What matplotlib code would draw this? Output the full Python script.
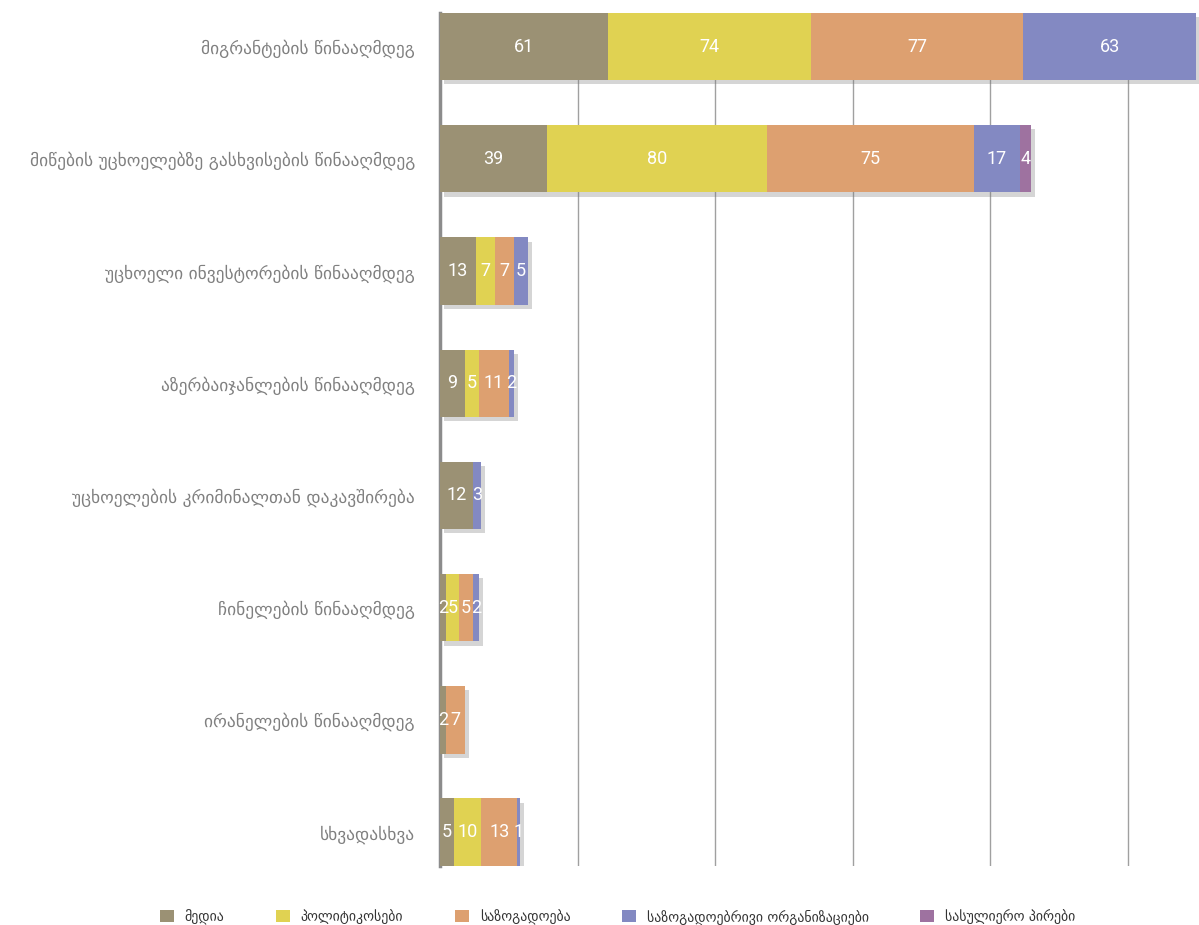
import numpy as np
import matplotlib.pyplot as plt
import matplotlib.patheffects as pe

# Categories (top to bottom)
categories = [
    "მიგრანტების წინააღმდეგ",
    "მიწების უცხოელებზე გასხვისების წინააღმდეგ",
    "უცხოელი ინვესტორების წინააღმდეგ",
    "აზერბაიჯანლების წინააღმდეგ",
    "უცხოელების კრიმინალთან დაკავშირება",
    "ჩინელების წინააღმდეგ",
    "ირანელების წინააღმდეგ",
    "სხვადასხვა",
]

# Series values
media = [61, 39, 13, 9, 12, 2, 2, 5]
politicians = [74, 80, 7, 5, 0, 5, 0, 10]
society = [77, 75, 7, 11, 0, 5, 7, 13]
organizations = [63, 17, 5, 2, 3, 2, 0, 1]
clergy = [0, 4, 0, 0, 0, 0, 0, 0]

series_names = ["მედია", "პოლიტიკოსები", "საზოგადოება",
                "საზოგადოებრივი ორგანიზაციები", "სასულიერო პირები"]
colors = ["#9b9174", "#e0d252", "#dda070", "#8389c2", "#9e72a0"]

series = [media, politicians, society, organizations, clergy]

fig = plt.figure(figsize=(11.99, 9.25), dpi=100)
ax = fig.add_axes([0.367, 0.064, 0.633, 0.922])

y = np.arange(len(categories))
left = np.zeros(len(categories))
shadow = [pe.SimplePatchShadow(offset=(3, -3), shadow_rgbFace="#777777", alpha=0.3), pe.Normal()]

for name, vals, col in zip(series_names, series, colors):
    vals = np.array(vals, dtype=float)
    bars = ax.barh(y, vals, left=left, height=0.6, color=col, label=name, zorder=3)
    for b in bars:
        b.set_path_effects(shadow)
    for yi, l, v in zip(y, left, vals):
        if v > 0:
            ax.text(l + v / 2, yi, f"{int(v)}", ha="center", va="center",
                    color="white", fontsize=13, family="Roboto", fontstretch="condensed", zorder=4)
    left += vals

ax.set_ylim(len(categories) - 0.7, -0.3)
ax.set_xlim(0, 276)
ax.set_yticks(y)
ax.set_yticklabels(categories, fontsize=12.5, color="#808080")
ax.tick_params(axis="y", length=0, pad=18)
ax.set_xticks([50, 100, 150, 200, 250])
ax.tick_params(axis="x", length=0, labelbottom=False)
ax.grid(axis="x", color="#a0a0a0", linewidth=1, zorder=0)

for s in ["top", "right", "bottom"]:
    ax.spines[s].set_visible(False)
ax.spines["left"].set_color("#8c8c8c")
ax.spines["left"].set_linewidth(2.5)

leg = fig.legend(loc="lower center", bbox_to_anchor=(0.515, -0.013), ncol=5, frameon=False,
                 fontsize=10, handlelength=1.0, handleheight=1.0, columnspacing=3.7,
                 labelcolor="#333333")
for h in leg.legend_handles:
    h.set_path_effects([])

plt.savefig("out.png", dpi=100)
